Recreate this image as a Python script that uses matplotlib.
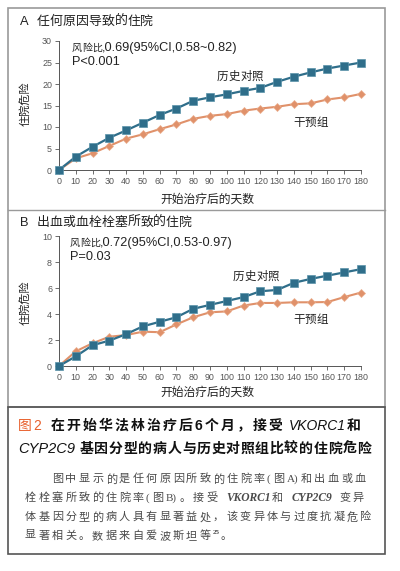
import numpy as np
import matplotlib
matplotlib.use("Agg")
import matplotlib.pyplot as plt
from matplotlib.patches import Rectangle
from matplotlib.lines import Line2D

plt.rcParams['font.family'] = ['Liberation Sans', 'Noto Sans CJK SC']

days = list(range(0, 190, 10))

# panel A: any cause hospitalisation (%)
hist_a = [0, 3.1, 5.4, 7.5, 9.2, 11.0, 12.8, 14.3, 16.1, 16.9, 17.6, 18.4,
          19.1, 20.5, 21.7, 22.7, 23.6, 24.3, 25.0]
interv_a = [0, 2.7, 3.9, 5.6, 7.3, 8.3, 9.5, 10.6, 11.9, 12.6, 13.0, 13.8,
            14.3, 14.7, 15.3, 15.5, 16.4, 16.9, 17.7]

# panel B: bleeding or thromboembolism
hist_b = [0, 0.74, 1.6, 1.95, 2.45, 3.05, 3.4, 3.75, 4.4, 4.7, 5.0, 5.3,
          5.75, 5.85, 6.4, 6.7, 6.95, 7.2, 7.45]
interv_b = [0, 1.13, 1.75, 2.25, 2.38, 2.64, 2.6, 3.2, 3.75, 4.13, 4.2, 4.65,
            4.85, 4.85, 4.9, 4.9, 4.92, 5.3, 5.65]

W, H = 400, 571
TEAL = "#2f6e8a"
ORANGE = "#e0916a"
GREY = "#555555"
SANS = ['Liberation Sans', 'Noto Sans CJK SC']
SERIF = ['Liberation Serif', 'Noto Sans CJK SC']

fig = plt.figure(figsize=(W / 100, H / 100), dpi=100)


def fx(px):
    return px / W


def fy(py):
    return 1 - py / H


def panel(top, bottom, hist, interv, ymax, ystep):
    ax = fig.add_axes([fx(59), fy(bottom), fx(361) - fx(59), fy(top) - fy(bottom)])
    ax.plot(days, hist, color=TEAL, lw=1.6, marker="s", ms=5.8,
            mec="#5a93aa", mew=0.5, clip_on=False, zorder=3)
    ax.plot(days, interv, color=ORANGE, lw=1.5, marker="D", ms=4.5,
            mec="#eab090", mew=0.5, clip_on=False, zorder=2)
    ax.set_xlim(0, 180)
    ax.set_ylim(0, ymax)
    ax.set_xticks(days)
    ax.set_yticks(np.arange(0, ymax + 0.1, ystep))
    for s in ["top", "right"]:
        ax.spines[s].set_visible(False)
    for s in ["left", "bottom"]:
        ax.spines[s].set_color(GREY)
        ax.spines[s].set_linewidth(0.7)
    ax.tick_params(axis="both", length=3, width=0.6, color=GREY,
                   labelsize=6.4, labelcolor="#555555", pad=2)
    ax.patch.set_alpha(0)
    return ax


panel(41, 170, hist_a, interv_a, 30, 5)
panel(236, 366, hist_b, interv_b, 10, 2)

# frames
fig.add_artist(Rectangle((fx(8), fy(407)), fx(385) - fx(8), fy(8) - fy(407),
                         fill=False, ec="#9a9a9a", lw=1.2, transform=fig.transFigure))
fig.add_artist(Line2D([fx(8), fx(385)], [fy(210), fy(210)], color="#9a9a9a",
                      lw=1.0, transform=fig.transFigure))
fig.add_artist(Rectangle((fx(8), fy(554)), fx(385) - fx(8), fy(407) - fy(554),
                         fill=False, ec="#555555", lw=1.2, transform=fig.transFigure))

renderer = fig.canvas.get_renderer()


def is_cjk(ch):
    return ord(ch) >= 0x2E80


def runs(s):
    out = []
    for ch in s:
        c = is_cjk(ch)
        if out and out[-1][1] == c:
            out[-1][0] += ch
        else:
            out.append([ch, c])
    return out


def row(px, py, parts):
    # lays out mixed text left to right; CJK glyphs on a fixed pitch
    x = px
    for p in parts:
        size = p.get("size", 8)
        sp = p.get("sp", 0)
        em = size * 100 / 72
        kw = dict(fontsize=size, color=p.get("color", "#222222"),
                  family=p.get("family", SANS), style=p.get("style", "normal"),
                  weight=p.get("weight", "normal"), va="center")
        y = py + p.get("dy", 0)
        for run, cjk in runs(p["s"]):
            if cjk:
                for ch in run:
                    fig.text(fx(x), fy(y), ch, **kw)
                    x += em + sp
            else:
                lead = len(run) - len(run.lstrip(" "))
                trail = len(run) - len(run.rstrip(" "))
                x += lead * 0.3 * em
                core = run.strip(" ")
                if core:
                    tx = fig.text(fx(x), fy(y), core, **kw)
                    x += tx.get_window_extent(renderer).width + sp + 0.5
                x += trail * 0.3 * em


# panel A texts
row(20, 22, [dict(s="A  任何原因导致的住院", size=9.3)])
row(72, 48, [dict(s="风险比", size=7.2), dict(s=",0.69(95%CI,0.58~0.82)", size=9.2)])
row(72, 62, [dict(s="P<0.001", size=9.2)])
row(217, 77, [dict(s="历史对照", size=8.3)])
row(293, 123, [dict(s="干预组", size=8.3)])
fig.text(fx(25), fy(104), "住院危险", rotation=90, ha="center", va="center",
         fontsize=8, color="#222222")
fig.text(fx(207), fy(200), "开始治疗后的天数", ha="center", va="center",
         fontsize=8.5, color="#222222")

# panel B texts
row(20, 223, [dict(s="B  出血或血栓栓塞所致的住院", size=9.3)])
row(70, 243, [dict(s="风险比", size=7.2), dict(s=",0.72(95%CI,0.53-0.97)", size=9.2)])
row(70, 257, [dict(s="P=0.03", size=9.2)])
row(233, 277, [dict(s="历史对照", size=8.3)])
row(293, 320, [dict(s="干预组", size=8.3)])
fig.text(fx(25), fy(303), "住院危险", rotation=90, ha="center", va="center",
         fontsize=8, color="#222222")
fig.text(fx(207), fy(393), "开始治疗后的天数", ha="center", va="center",
         fontsize=8.5, color="#222222")

# caption title
TK = "#111111"
row(18, 426, [dict(s="图2", size=10, color="#e8602c", sp=1),
              dict(s=" ", size=10),
              dict(s="在开始华法林治疗后6个月，接受", size=10, sp=2.1, weight="semibold", color=TK),
              dict(s=" VKORC1", size=10, style="italic", color=TK),
              dict(s="和", size=10, weight="semibold", color=TK)])
row(18, 449, [dict(s="CYP2C9 ", size=10.5, style="italic", color=TK),
              dict(s="基因分型的病人与历史对照组比较的住院危险", size=10, sp=0.7,
                   weight="semibold", color=TK)])

# caption body
BODY = "#4a4a4a"
row(52, 479, [dict(s="图中显示的是任何原因所致的住院率(图A)和出血或血", size=8,
                   sp=2.3, family=SERIF, color=BODY)])
row(25, 498, [dict(s="栓栓塞所致的住院率(图B)。接受 ", size=8, sp=2.3, family=SERIF, color=BODY),
              dict(s="VKORC1", size=8.3, style="italic", weight="bold", family=SERIF, color=BODY),
              dict(s="和 ", size=8, sp=2.3, family=SERIF, color=BODY),
              dict(s="CYP2C9", size=8.3, style="italic", weight="bold", family=SERIF, color=BODY),
              dict(s=" 变异", size=8, sp=2.3, family=SERIF, color=BODY)])
row(25, 517, [dict(s="体基因分型的病人具有显著益处，该变异体与过度抗凝危险", size=8,
                   sp=2.3, family=SERIF, color=BODY)])
row(25, 536, [dict(s="显著相关。数据来自爱波斯坦等", size=8, sp=2.3, family=SERIF, color=BODY),
              dict(s="25", size=5, dy=-3, family=SERIF, weight="bold", color=BODY),
              dict(s="。", size=8, family=SERIF, color=BODY)])

fig.savefig("out.png", dpi=100)
